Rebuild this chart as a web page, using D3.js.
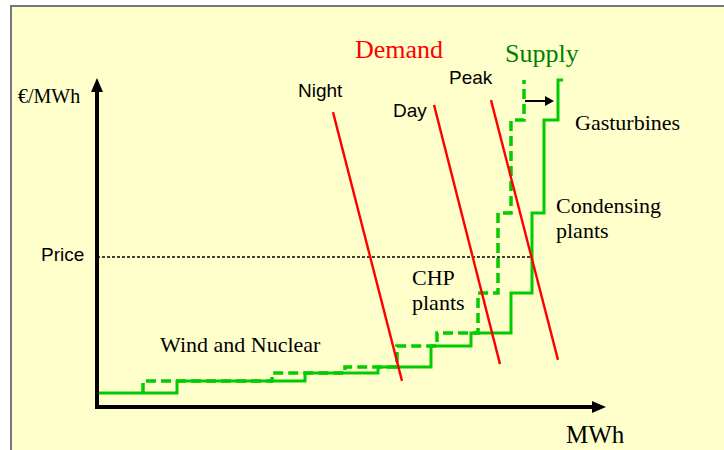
<!DOCTYPE html>
<html>
<head>
<meta charset="utf-8">
<script src="https://cdn.jsdelivr.net/npm/d3@7"></script>
<style>
  body { margin: 0; background: #fff; }
  .serif { font-family: "Liberation Serif", "Times New Roman", serif; }
  .sans { font-family: "Liberation Sans", Arial, sans-serif; }
</style>
</head>
<body>
<svg id="chart" width="724" height="450"></svg>
<script>
// price levels of the merit order blocks (same for both supply curves)
const levels = [4.7, 8.7, 11.3, 13.3, 20.3, 24.7, 38, 64.7, 95.7, 109];
// MWh where the solid (current) supply curve steps up to the next level
const supplySteps = [16, 41.6, 56.2, 66.8, 74.8, 82.8, 87, 89.4, 92.2];
const supplyStart = 0, supplyEnd = 93.2;
// the dashed (shifted) supply curve
const shiftedSteps = [9.2, 35, 49.6, 60, 68, 76.2, 80.2, 82.8, 85.4];
// demand lines: [top point, bottom point] as [MWh, price]
const demandNames = ["Night", "Day", "Peak"];
const demandLines = [
    [[47.2, 98.3], [61, 8.7]],
    [[67.4, 100.7], [80.6, 14.3]],
    [[78.8, 102.3], [92.2, 15.7]]
];
const price = 50;
const shiftArrow = [[85.6, 102], [91, 102]];

const svg = d3.select("#chart");
const x = d3.scaleLinear().domain([0, 100]).range([97, 597]);
const y = d3.scaleLinear().domain([0, 110]).range([407, 77]);

// panel background and border
svg.append("rect")
    .attr("x", 11).attr("y", 6)
    .attr("width", 713).attr("height", 444)
    .attr("fill", "#ffffcc");
svg.append("path")
    .attr("d", "M 11 450 V 6 H 724")
    .attr("fill", "none")
    .attr("stroke", "#777")
    .attr("stroke-width", 2);

/**
 * build the step points of a supply curve
 */
function stepPoints(start, steps, end){
    let pts = [[start, levels[0]]];
    steps.forEach(function(s, i){
        pts.push([s, levels[i]]);
        pts.push([s, levels[i + 1]]);
    });
    if(end !== null){
        pts.push([end, levels[levels.length - 1]]);
    }
    return pts;
}

const line = d3.line().x(d => x(d[0])).y(d => y(d[1]));

// price dotted line, up to where peak demand meets supply
const peak = demandLines[2];
const t = (price - peak[0][1]) / (peak[1][1] - peak[0][1]);
const priceX = peak[0][0] + t * (peak[1][0] - peak[0][0]);
svg.append("path")
    .attr("d", line([[0, price], [priceX, price]]))
    .attr("stroke", "#000")
    .attr("stroke-width", 1.6)
    .attr("stroke-dasharray", "3,2");

// supply curves
svg.append("path")
    .attr("d", line(stepPoints(shiftedSteps[0], shiftedSteps, null)))
    .attr("fill", "none")
    .attr("stroke", "#00cc00")
    .attr("stroke-width", 3.5)
    .attr("stroke-dasharray", "10,5");
svg.append("path")
    .attr("d", line(stepPoints(supplyStart, supplySteps, supplyEnd)))
    .attr("fill", "none")
    .attr("stroke", "#00cc00")
    .attr("stroke-width", 3)
    .attr("stroke-linejoin", "miter");

// demand lines
svg.selectAll(".demand")
    .data(demandLines)
    .join("path")
    .attr("class", "demand")
    .attr("d", d => line(d))
    .attr("stroke", "#ff0000")
    .attr("stroke-width", 2.4);

// shift arrow
svg.append("path")
    .attr("d", line(shiftArrow))
    .attr("stroke", "#000")
    .attr("stroke-width", 2);
const ax = x(shiftArrow[1][0]), ay = y(shiftArrow[1][1]);
svg.append("path")
    .attr("d", "M " + (ax + 2) + " " + ay + " l -9 -5 v 10 z")
    .attr("fill", "#000");

// axes with arrow heads
const x0 = x(0), y0 = y(0);
svg.append("path")
    .attr("d", "M " + x0 + " " + (y0 + 2) + " V 90")
    .attr("stroke", "#000")
    .attr("stroke-width", 4);
svg.append("path")
    .attr("d", "M " + (x0 - 6) + " 92 L " + x0 + " 78 L " + (x0 + 6) + " 92 z")
    .attr("fill", "#000");
svg.append("path")
    .attr("d", "M " + (x0 - 2) + " " + y0 + " H 594")
    .attr("stroke", "#000")
    .attr("stroke-width", 4);
svg.append("path")
    .attr("d", "M 592 " + (y0 - 6) + " L 606 " + y0 + " L 592 " + (y0 + 6) + " z")
    .attr("fill", "#000");

// labels
function label(txt, px, py, cls, size, color){
    svg.append("text")
        .attr("class", cls)
        .attr("x", px).attr("y", py)
        .attr("font-size", size)
        .attr("fill", color || "#000")
        .text(txt);
}
label("Demand", 355, 58, "serif", 26, "#ff0000");
label("Supply", 505, 62, "serif", 26, "#008000");
label(demandNames[0], 298, 97, "sans", 19);
label(demandNames[1], 393, 117, "sans", 19);
label(demandNames[2], 449, 84, "sans", 19);
label("€/MWh", 18, 103, "serif", 20);
label("Price", 41, 261, "sans", 19);
label("Gasturbines", 575, 130, "serif", 22);
label("Condensing", 556, 213, "serif", 22);
label("plants", 556, 238, "serif", 22);
label("CHP", 412, 285, "serif", 22);
label("plants", 412, 310, "serif", 22);
label("Wind and Nuclear", 160, 352, "serif", 22);
label("MWh", 566, 443, "serif", 25);
</script>
</body>
</html>
